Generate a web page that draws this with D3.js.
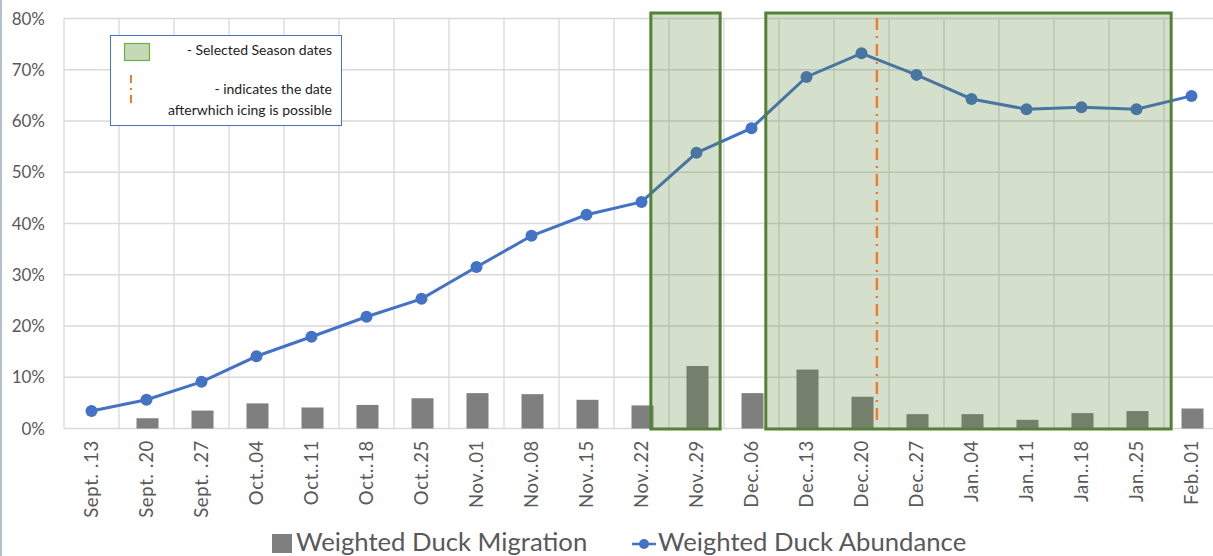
<!DOCTYPE html>
<html><head><meta charset="utf-8">
<script src="https://cdn.jsdelivr.net/npm/d3@7"></script>
<style>
html,body{margin:0;padding:0;background:#fff;}
svg{display:block;font-family:Lato,"Open Sans",sans-serif;}
</style></head>
<body><svg id="c" width="1213" height="556"></svg>
<script>
const categories = ["Sept. .13","Sept. .20","Sept. .27","Oct..04","Oct..11","Oct..18","Oct..25","Nov..01","Nov..08","Nov..15","Nov..22","Nov..29","Dec..06","Dec..13","Dec..20","Dec..27","Jan..04","Jan..11","Jan..18","Jan..25","Feb..01"];
const migration = [0,2.0,3.5,4.9,4.1,4.6,5.9,6.9,6.7,5.6,4.5,12.2,6.9,11.5,6.2,2.8,2.8,1.7,3.0,3.4,3.9];
const abundance = [3.4,5.6,9.1,14.1,17.9,21.8,25.3,31.5,37.6,41.7,44.2,53.8,58.6,68.6,73.2,69.0,64.3,62.3,62.7,62.3,64.9];
const yTicks = [0,10,20,30,40,50,60,70,80];
const seasons = [["Nov..22",0.67,"Nov..29",0.93],["Dec..06",0.76,"Jan..25",1.13]];
const icingDate = ["Dec..20",0.78];
const legendNames = ["Weighted Duck Migration","Weighted Duck Abundance"];

const svg = d3.select("#c");
const L=64, R=1219, T=18.5, B=428.5;
const x = d3.scaleBand().domain(categories).range([L,R]).padding(0);
const y = d3.scaleLinear().domain([0,80]).range([B,T]);
const bw = x.bandwidth();
const grid="#d9d9d9", txt="#595959";

// left border line
svg.append("line").attr("x1",1).attr("x2",1).attr("y1",0).attr("y2",556).attr("stroke","#b4bfcd").attr("stroke-width",2);

// horizontal gridlines
svg.append("g").selectAll("line").data(yTicks).join("line")
  .attr("x1",L).attr("x2",R).attr("y1",d=>y(d)).attr("y2",d=>y(d))
  .attr("stroke",grid).attr("stroke-width",1.3);
// vertical gridlines
svg.append("g").selectAll("line").data(categories.concat(["__end"])).join("line")
  .attr("x1",(d,i)=>L+i*bw).attr("x2",(d,i)=>L+i*bw).attr("y1",T).attr("y2",B)
  .attr("stroke",grid).attr("stroke-width",1.3);

// y labels
svg.append("g").selectAll("text").data(yTicks).join("text")
  .attr("x",45).attr("y",d=>y(d)).attr("dy","0.36em").attr("text-anchor","end")
  .attr("font-size",17).attr("fill",txt).text(d=>d+"%");

// x labels
svg.append("g").selectAll("text").data(categories).join("text")
  .attr("transform",d=>`translate(${x(d)+bw/2},440) rotate(-90)`)
  .attr("dy","0.35em").attr("text-anchor","end")
  .attr("font-size",18.5).attr("letter-spacing","0.7px").attr("fill",txt).text(d=>d);

// bars
const barW = 22;
svg.append("g").selectAll("rect").data(migration.map((v,i)=>({c:categories[i],v}))).join("rect")
  .attr("x",d=>x(d.c)+bw/2-barW/2+1).attr("width",barW)
  .attr("y",d=>y(d.v)).attr("height",d=>y(0)-y(d.v)).attr("fill","#7f7f7f");

// line
const pts = abundance.map((v,i)=>({c:categories[i],v}));
svg.append("path").datum(pts)
  .attr("d",d3.line().x(d=>x(d.c)+bw/2).y(d=>y(d.v)))
  .attr("fill","none").attr("stroke","#4472c4").attr("stroke-width",3);
svg.append("g").selectAll("circle").data(pts).join("circle")
  .attr("cx",d=>x(d.c)+bw/2).attr("cy",d=>y(d.v)).attr("r",6).attr("fill","#4472c4");

// season boxes
svg.append("g").selectAll("rect").data(seasons).join("rect")
  .attr("x",d=>x(d[0])+bw*d[1]).attr("width",d=>x(d[2])+bw*d[3]-(x(d[0])+bw*d[1]))
  .attr("y",13).attr("height",429-13)
  .attr("fill","rgba(84,130,53,0.25)").attr("stroke","#538135").attr("stroke-width",3);

// icing line
const ix = x(icingDate[0])+bw*icingDate[1];
svg.append("line").attr("x1",ix).attr("x2",ix).attr("y1",18).attr("y2",424)
  .attr("stroke","#ed7d31").attr("stroke-width",2.5).attr("stroke-dasharray","12 6 2 6");

// inner legend box
const lg = svg.append("g");
lg.append("rect").attr("x",110.5).attr("y",35.5).attr("width",231).attr("height",90)
  .attr("fill","#fff").attr("stroke","#4472c4").attr("stroke-width",1);
lg.append("rect").attr("x",124.5).attr("y",43.5).attr("width",25).attr("height",17)
  .attr("fill","#c6d9b6").attr("stroke","#70ad47").attr("stroke-width",1.2);
lg.append("line").attr("x1",131).attr("x2",131).attr("y1",75).attr("y2",106)
  .attr("stroke","#ed7d31").attr("stroke-width",2).attr("stroke-dasharray","8 5 2 5");
lg.append("text").attr("x",332).attr("y",55).attr("text-anchor","end").attr("font-size",14).attr("fill","#222").text("- Selected Season dates");
lg.append("text").attr("x",332).attr("y",94).attr("text-anchor","end").attr("font-size",14).attr("fill","#222").text("- indicates the date");
lg.append("text").attr("x",332).attr("y",115).attr("text-anchor","end").attr("font-size",14).attr("fill","#222").text("afterwhich icing is possible");

// bottom legend
const bl = svg.append("g");
bl.append("rect").attr("x",272).attr("y",534).attr("width",20).attr("height",19).attr("fill","#7f7f7f");
bl.append("text").attr("x",296).attr("y",551).attr("font-size",25.7).attr("fill",txt).text(legendNames[0]);
bl.append("line").attr("x1",632).attr("x2",656).attr("y1",544).attr("y2",544).attr("stroke","#4472c4").attr("stroke-width",2.5);
bl.append("circle").attr("cx",644).attr("cy",544).attr("r",5).attr("fill","#4472c4");
bl.append("text").attr("x",658).attr("y",551).attr("font-size",25.7).attr("fill",txt).text(legendNames[1]);
</script></body></html>
